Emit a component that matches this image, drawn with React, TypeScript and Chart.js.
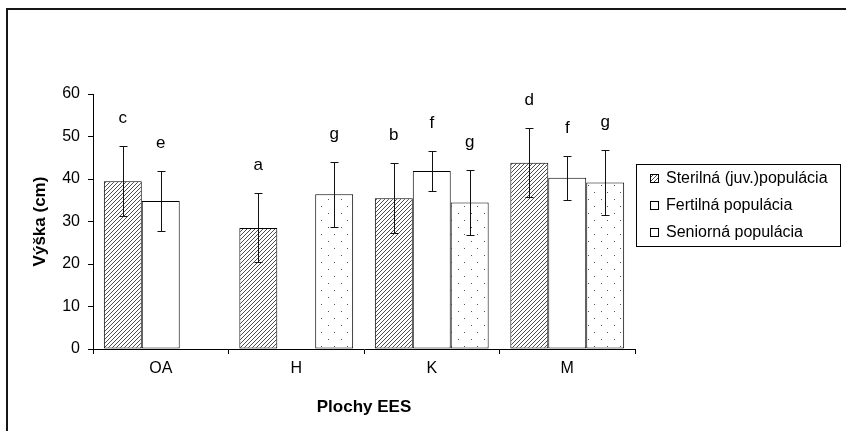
import React, { useEffect, useRef } from "react";
import { Chart, registerables } from "chart.js";
Chart.register(...registerables);

const categories = ["OA", "H", "K", "M"];
const seriesLabels = ["Sterilná (juv.)populácia", "Fertilná populácia", "Seniorná populácia"];
const sterilna = [39.5, 28.5, 35.5, 43.8];
const fertilna = [34.8, 0, 41.9, 40.3];
const seniorna = [null, 36.4, 34.5, 39.2];
const sterilnaErr = [8.2, 8.1, 8.2, 8.1];
const fertilnaErr = [7.1, 0, 4.8, 5.2];
const seniornaErr = [0, 7.7, 7.7, 7.6];
const sterilnaLetters = ["c", "a", "b", "d"];
const fertilnaLetters = ["e", "", "f", "f"];
const seniornaLetters = ["", "g", "g", "g"];
const yMin = 0;
const yMax = 60;
const yStep = 10;
const xTitle = "Plochy EES";
const yTitle = "Výška (cm)";

const FONT = "'Liberation Sans', Arial, sans-serif";

function makeHatch(): CanvasPattern | string {
  const c = document.createElement("canvas");
  c.width = 4;
  c.height = 4;
  const g = c.getContext("2d");
  if (!g) return "#888";
  g.fillStyle = "#ffffff";
  g.fillRect(0, 0, 4, 4);
  g.strokeStyle = "#3a3a3a";
  g.lineWidth = 0.9;
  g.beginPath();
  g.moveTo(-1, 5);
  g.lineTo(5, -1);
  g.moveTo(-1, 1);
  g.lineTo(1, -1);
  g.moveTo(3, 5);
  g.lineTo(5, 3);
  g.stroke();
  const p = g.createPattern(c, "repeat");
  return p || "#888";
}

function makeDots(): CanvasPattern | string {
  const c = document.createElement("canvas");
  c.width = 13;
  c.height = 14;
  const g = c.getContext("2d");
  if (!g) return "#fff";
  g.fillStyle = "#ffffff";
  g.fillRect(0, 0, 13, 14);
  g.fillStyle = "#555555";
  g.fillRect(3, 3, 1, 1);
  g.fillRect(9, 10, 1, 1);
  const p = g.createPattern(c, "repeat");
  return p || "#fff";
}

const errors = [sterilnaErr, fertilnaErr, seniornaErr];
const letters = [sterilnaLetters, fertilnaLetters, seniornaLetters];

const decorPlugin = {
  id: "decor",
  beforeDraw(chart: any) {
    const ctx = chart.ctx;
    ctx.save();
    ctx.fillStyle = "#ffffff";
    ctx.fillRect(0, 0, chart.width, chart.height);
    ctx.restore();
  },
  afterDatasetsDraw(chart: any) {
    const ctx = chart.ctx;
    const ys = chart.scales.y;
    ctx.save();
    ctx.strokeStyle = "#111111";
    ctx.lineWidth = 1;
    ctx.fillStyle = "#000000";
    ctx.font = `17px ${FONT}`;
    ctx.textAlign = "center";
    ctx.textBaseline = "alphabetic";
    chart.data.datasets.forEach((ds: any, i: number) => {
      const meta = chart.getDatasetMeta(i);
      ds.data.forEach((v: number | null, j: number) => {
        if (v === null || v === undefined) return;
        const bar = meta.data[j];
        const x = Math.round(bar.x) + 0.5;
        const e = errors[i][j];
        let top = ys.getPixelForValue(v);
        if (e > 0) {
          top = ys.getPixelForValue(v + e);
          const bot = ys.getPixelForValue(v - e);
          ctx.beginPath();
          ctx.moveTo(x, Math.round(top) + 0.5);
          ctx.lineTo(x, Math.round(bot) + 0.5);
          ctx.moveTo(x - 4, Math.round(top) + 0.5);
          ctx.lineTo(x + 4, Math.round(top) + 0.5);
          ctx.moveTo(x - 4, Math.round(bot) + 0.5);
          ctx.lineTo(x + 4, Math.round(bot) + 0.5);
          ctx.stroke();
        }
        const t = letters[i][j];
        if (t) ctx.fillText(t, bar.x, top - 23);
      });
    });
    ctx.restore();
  },
  afterDraw(chart: any) {
    const ctx = chart.ctx;
    const area = chart.chartArea;
    ctx.save();
    // outer frame
    ctx.fillStyle = "#161616";
    ctx.fillRect(6, 8, chart.width - 6, 2);
    ctx.fillRect(6, 8, 2, chart.height - 8);
    // legend
    const lx = Math.round(area.right) + 1;
    const ly = 164;
    const lw = 204;
    const lh = 82;
    ctx.strokeStyle = "#000000";
    ctx.lineWidth = 1;
    ctx.strokeRect(lx + 0.5, ly + 0.5, lw, lh);
    ctx.font = `16px ${FONT}`;
    ctx.textAlign = "left";
    ctx.textBaseline = "middle";
    chart.data.datasets.forEach((ds: any, i: number) => {
      const cy = ly + 14 + i * 27;
      const mx = lx + 14;
      ctx.fillStyle = ds.backgroundColor;
      ctx.fillRect(mx, cy - 4, 9, 9);
      ctx.strokeStyle = "#000000";
      ctx.strokeRect(mx + 0.5, cy - 4 + 0.5, 8, 8);
      ctx.fillStyle = "#000000";
      ctx.fillText(ds.label, lx + 30, cy + 1);
    });
    ctx.restore();
  },
};

export default function App() {
  const ref = useRef<HTMLCanvasElement | null>(null);
  useEffect(() => {
    if (!ref.current) return;
    Chart.defaults.font.family = FONT;
    Chart.defaults.font.size = 16;
    Chart.defaults.color = "#000000";
    const hatch = makeHatch();
    const dots = makeDots();
    const chart = new Chart(ref.current, {
      type: "bar",
      data: {
        labels: categories,
        datasets: [
          { label: seriesLabels[0], data: sterilna, backgroundColor: hatch as any, borderColor: "#000", borderWidth: 1 },
          { label: seriesLabels[1], data: fertilna, backgroundColor: "#ffffff", borderColor: "#000", borderWidth: 1 },
          { label: seriesLabels[2], data: seniorna as any, backgroundColor: dots as any, borderColor: "#000", borderWidth: 1 },
        ],
      },
      options: {
        responsive: false,
        animation: false,
        devicePixelRatio: 1,
        layout: { padding: { left: 0, top: 94, right: 211, bottom: 0 } },
        datasets: { bar: { categoryPercentage: 0.84, barPercentage: 1, borderSkipped: false } },
        plugins: { legend: { display: false }, tooltip: { enabled: false } },
        scales: {
          x: {
            offset: true,
            grid: { display: true, offset: true, drawOnChartArea: false, drawTicks: true, tickLength: 5, color: "#000" },
            border: { display: true, color: "#000", width: 1 },
            ticks: { padding: 5, color: "#000", font: { size: 16 } },
            title: { display: true, text: xTitle, font: { size: 17, weight: "bold" }, color: "#000", padding: { top: 4, bottom: 13 } },
            afterFit: (s: any) => { s.height = 82; },
          },
          y: {
            min: yMin,
            max: yMax,
            grid: { display: true, drawOnChartArea: false, drawTicks: true, tickLength: 5, color: "#000" },
            border: { display: true, color: "#000", width: 1 },
            ticks: { stepSize: yStep, padding: 8, color: "#000", font: { size: 16 } },
            title: { display: true, text: yTitle, font: { size: 17, weight: "bold" }, color: "#000", padding: { top: 30, bottom: 4 } },
            afterFit: (s: any) => { s.width = 93; },
          },
        },
      },
      plugins: [decorPlugin],
    });
    return () => chart.destroy();
  }, []);
  return (
    <div style={{ position: "absolute", left: 0, top: 0, width: 846, height: 431, background: "#fff" }}>
      <canvas ref={ref} width={846} height={431} style={{ display: "block" }} />
    </div>
  );
}
